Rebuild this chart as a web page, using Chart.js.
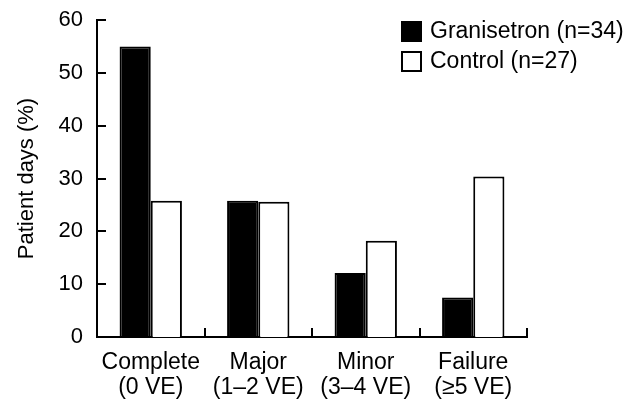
<!DOCTYPE html>
<html>
<head>
<meta charset="utf-8">
<script src="https://cdn.jsdelivr.net/npm/chart.js@4.4.1/dist/chart.umd.min.js"></script>
<style>
    body { margin: 0; background: #fff; }
</style>
</head>
<body>
<canvas id="chart" width="635" height="399"></canvas>
<script>
const categories = [
    ['Complete', '(0 VE)'],
    ['Major', '(1\u20132 VE)'],
    ['Minor', '(3\u20134 VE)'],
    ['Failure', '(\u22655 VE)']
]
const granisetron = [55, 25.8, 12.1, 7.5]
const control = [25.8, 25.6, 18.2, 30.4]
const seriesNames = ['Granisetron (n=34)', 'Control (n=27)']
const yTicks = [0, 10, 20, 30, 40, 50, 60]

const FONT = 'Liberation Sans, Arial, Helvetica, sans-serif'

// inward tick marks + legend box in the top right
const extras = {
    id: 'extras',
    afterDraw(chart) {
        const { ctx, chartArea, scales: { x, y } } = chart
        ctx.save()
        ctx.strokeStyle = '#000'
        ctx.lineWidth = 2
        ctx.beginPath()
        yTicks.forEach(v => {
            const py = Math.round(y.getPixelForValue(v))
            ctx.moveTo(chartArea.left, py)
            ctx.lineTo(chartArea.left + 9, py)
        })
        for (let i = 0; i < categories.length; i++) {
            const px = Math.round(x.getPixelForValue(i + 0.5))
            ctx.moveTo(px, chartArea.bottom)
            ctx.lineTo(px, chartArea.bottom - 9)
        }
        ctx.stroke()

        // legend
        ctx.font = '23px ' + FONT
        ctx.textBaseline = 'middle'
        chart.data.datasets.forEach((ds, i) => {
            const cy = 31 + i * 30
            ctx.fillStyle = ds.backgroundColor
            ctx.fillRect(401, cy - 10, 21, 21)
            ctx.strokeStyle = '#000'
            ctx.strokeRect(402, cy - 9, 19, 19)
            ctx.fillStyle = '#000'
            ctx.fillText(ds.label, 430, cy + 1)
        })
        ctx.restore()
    }
}

new Chart(document.getElementById('chart'), {
    type: 'bar',
    data: {
        labels: categories,
        datasets: [
            {
                label: seriesNames[0],
                data: granisetron,
                backgroundColor: '#000',
                borderColor: '#000',
                borderWidth: 2
            },
            {
                label: seriesNames[1],
                data: control,
                backgroundColor: '#fff',
                borderColor: '#000',
                borderWidth: 2
            }
        ]
    },
    options: {
        responsive: false,
        animation: false,
        devicePixelRatio: 1,
        layout: { padding: { left: 14, right: 108, top: 20, bottom: 0 } },
        datasets: {
            bar: { categoryPercentage: 0.58, barPercentage: 1 }
        },
        plugins: {
            legend: { display: false },
            tooltip: { enabled: false }
        },
        scales: {
            x: {
                grid: { display: false, drawTicks: false },
                border: { display: true, color: '#000', width: 2 },
                ticks: {
                    color: '#000',
                    padding: 13,
                    maxRotation: 0,
                    font: { family: FONT, size: 23, lineHeight: 1.1 }
                },
                afterFit(scale) {
                    scale.height = 62
                    scale.paddingLeft = 0
                    scale.paddingRight = 0
                }
            },
            y: {
                min: 0,
                max: 60,
                grid: { display: false, drawTicks: false },
                border: { display: true, color: '#000', width: 2 },
                ticks: {
                    stepSize: 10,
                    color: '#000',
                    padding: 14,
                    font: { family: FONT, size: 22 }
                },
                title: {
                    display: true,
                    text: 'Patient days (%)',
                    color: '#000',
                    padding: { top: 0, bottom: 0 },
                    font: { family: FONT, size: 22 }
                },
                afterFit(scale) {
                    scale.width = 83
                    scale.paddingTop = 0
                    scale.paddingBottom = 0
                }
            }
        }
    },
    plugins: [extras]
})
</script>
</body>
</html>
